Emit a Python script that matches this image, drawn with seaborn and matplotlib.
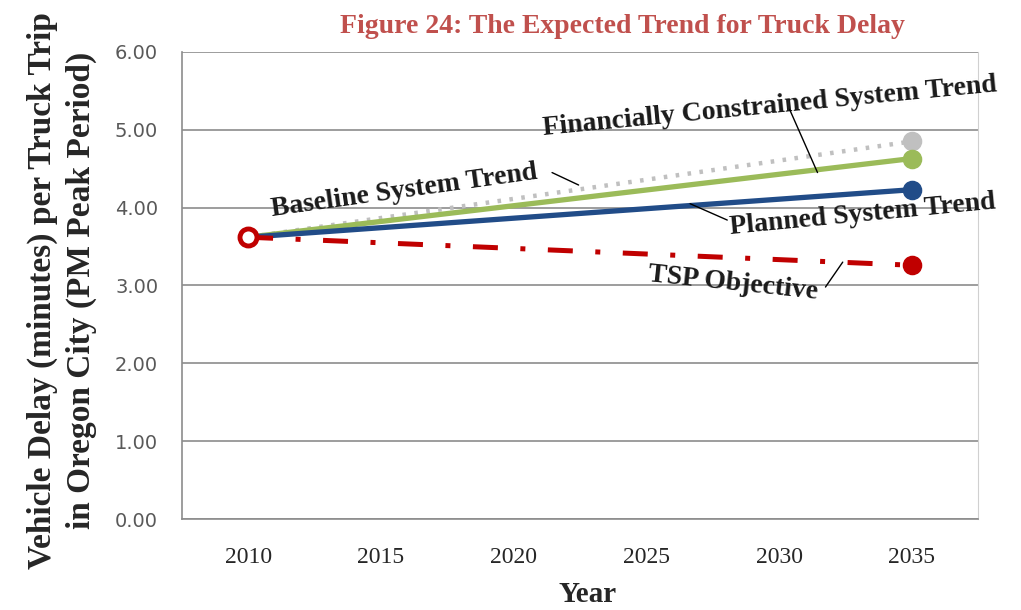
import pandas as pd
import matplotlib.pyplot as plt
import seaborn as sns
import numpy as np

# chart data
years = ['2010', '2015', '2020', '2025', '2030', '2035']
series_names = ['Baseline System Trend', 'Financially Constrained System Trend',
                'Planned System Trend', 'TSP Objective']
start_2010 = [3.62, 3.62, 3.62, 3.62]
end_2035 = [4.85, 4.63, 4.23, 3.26]
yticks = [0, 1, 2, 3, 4, 5, 6]

colors = ['#c0c0c0', '#9bbb59', '#214c88', '#c00000']
styles = [(0, (0.8, 1.9)), '-', '-', (0, (5, 4.5, 1, 4.5))]
widths = [3.2, 3.8, 3.8, 3.6]

rows = []
for name, a, b in zip(series_names, start_2010, end_2035):
    rows.append({'series': name, 'x': years.index('2010'), 'value': a})
    rows.append({'series': name, 'x': years.index('2035'), 'value': b})
df = pd.DataFrame(rows)

sns.set_style('white')
serif = ['Liberation Serif', 'DejaVu Serif']

fig = plt.figure(figsize=(10.21, 6.10), dpi=100)
ax = fig.add_axes([0.178, 0.149, 0.780, 0.766])

for name, c, ls, lw in zip(series_names, colors, styles, widths):
    sub = df[df.series == name]
    sns.lineplot(data=sub, x='x', y='value', ax=ax, color=c, linestyle=ls,
                 linewidth=lw, zorder=3)
    sns.scatterplot(data=sub[sub.x == 5], x='x', y='value', ax=ax, color=c,
                    s=170, edgecolor=c, zorder=4)

# ring marker at the 2010 start
sub = df[(df.series == 'TSP Objective') & (df.x == 0)]
sns.scatterplot(data=sub, x='x', y='value', ax=ax, color='white', s=150,
                edgecolor='#c00000', linewidth=3.5, zorder=5)

ax.set_xlim(-0.5, 5.5)
ax.set_ylim(0, 6)
ax.set_yticks(yticks)
ax.set_yticklabels(['%.2f' % v for v in yticks], fontsize=14, color='#595959')
ax.set_xticks(np.arange(-0.5, 6, 1))
ax.set_xticklabels([])
ax.set_xticks(range(len(years)), minor=True)
ax.set_xticklabels(years, minor=True, fontsize=17, family=serif)
ax.tick_params(axis='x', which='major', length=8, color='#8c8c8c', width=1.2)
ax.tick_params(axis='x', which='minor', length=0, pad=20)
ax.tick_params(axis='y', length=7, color='#8c8c8c', width=1.2, pad=10)
ax.yaxis.grid(True, color='#8c8c8c', linewidth=1.2, zorder=0)
for s in ['left', 'bottom']:
    ax.spines[s].set_color('#8c8c8c')
    ax.spines[s].set_linewidth(1.2)
ax.spines['right'].set_color('#d0d0d0')
ax.spines['top'].set_visible(False)
ax.set_xlabel('Year', fontsize=21, fontweight='bold', family=serif)
ax.xaxis.set_label_coords(0.51, -0.132)
ax.set_ylabel('Vehicle Delay (minutes) per Truck Trip\nin Oregon City (PM Peak Period)',
              fontsize=24, fontweight='bold', family=serif, linespacing=1.3)
ax.yaxis.set_label_coords(-0.107, 0.49)

fig.text(0.61, 0.957, 'Figure 24: The Expected Trend for Truck Delay', ha='center',
         va='center', fontsize=20, fontweight='bold', color='#c0504d', family=serif)

# labels with leader lines
def label(text, xy, rot):
    ax.text(xy[0], xy[1], text, rotation=rot, ha='center', va='center',
            fontsize=20, fontweight='bold', family=serif, color='#1a1a1a',
            rotation_mode='anchor', zorder=6)

label('Baseline System Trend', (1.18, 4.22), 8)
ax.plot([2.29, 2.49], [4.45, 4.29], color='black', lw=1, zorder=6)
label('Financially Constrained System Trend', (3.93, 5.29), 5.5)
ax.plot([4.08, 4.29], [5.26, 4.45], color='black', lw=1, zorder=6)
label('Planned System Trend', (4.63, 3.91), 5.5)
ax.plot([3.33, 3.61], [4.05, 3.84], color='black', lw=1, zorder=6)
label('TSP Objective', (3.65, 3.02), -6)
ax.plot([4.48, 4.35], [3.30, 2.98], color='black', lw=1, zorder=6)

fig.savefig('out.png', dpi=100)
